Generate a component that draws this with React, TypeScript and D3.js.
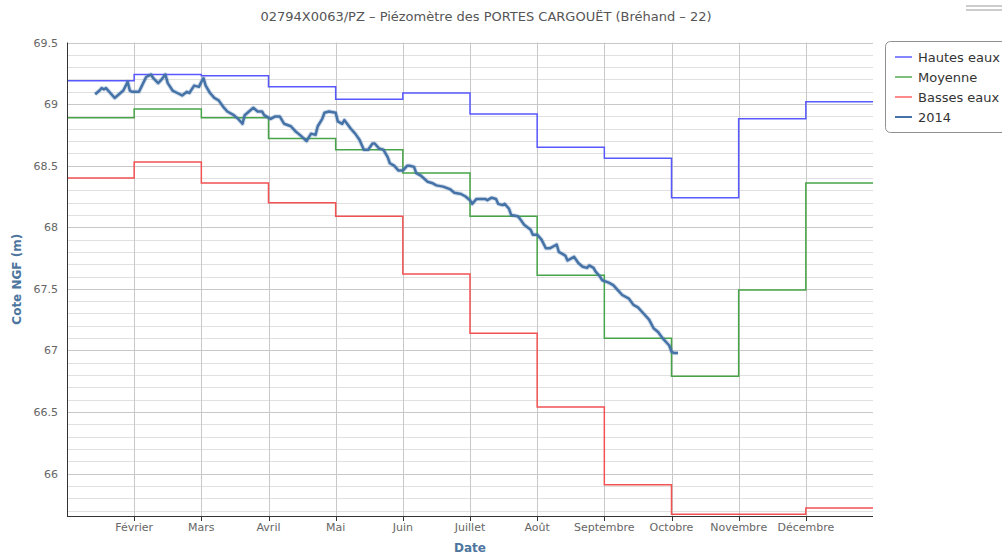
import React from "react";
import * as d3 from "d3";

const WIDTH = 1002;
const HEIGHT = 555;
const PLOT = { left: 67, right: 873, top: 42.5, bottom: 516 };

const TITLE = "02794X0063/PZ – Piézomètre des PORTES CARGOUËT (Bréhand – 22)";
const monthLabels = ["Janvier", "Février", "Mars", "Avril", "Mai", "Juin", "Juillet", "Août", "Septembre", "Octobre", "Novembre", "Décembre"];
const yTicks = [66, 66.5, 67, 67.5, 68, 68.5, 69, 69.5];

// monthly reference levels (one value per month, Jan..Dec)
const hautesEaux = [69.19, 69.24, 69.23, 69.14, 69.04, 69.09, 68.92, 68.65, 68.56, 68.24, 68.88, 69.02];
const moyenne = [68.89, 68.96, 68.89, 68.72, 68.63, 68.44, 68.09, 67.61, 67.1, 66.79, 67.49, 68.36];
const bassesEaux = [68.4, 68.53, 68.36, 68.2, 68.09, 67.62, 67.14, 66.54, 65.91, 65.67, 65.67, 65.72];

// 2014 readings: day offset from 1 Jan and level
const days2014 = [
  13, 15, 16, 17, 18, 20, 22, 24, 26, 28, 29, 30,
  33, 34, 36, 38, 39, 41, 42, 44, 45, 47, 49, 51, 53, 54, 56, 58,
  59, 60, 61, 63, 65, 67, 69, 71, 74, 76, 78, 79, 81, 83, 85, 87, 88,
  91, 93, 95, 97, 100, 102, 104, 107, 109, 111, 112, 114, 115, 117, 120,
  121, 123, 124, 127, 129, 131, 133, 135, 137, 138, 140, 142, 144, 145, 147, 149,
  151, 153, 154, 156, 157, 159, 162, 164, 166, 169, 172, 174, 177, 179,
  181, 182, 184, 186, 188, 189, 191, 193, 194, 196, 197, 199, 200, 203, 204, 206, 209, 210,
  212, 214, 216, 218, 220, 221, 222, 225, 226, 228, 229, 231, 233, 235, 236, 238, 239, 241, 242,
  245, 247, 249, 251, 254, 256, 258, 260, 263, 265, 267, 269, 272, 273, 274, 276,
];
const values2014 = [
  69.08, 69.11, 69.13, 69.12, 69.13, 69.09, 69.05, 69.08, 69.11, 69.18, 69.11, 69.1,
  69.1, 69.14, 69.22, 69.24, 69.21, 69.17, 69.19, 69.24, 69.17, 69.11, 69.09, 69.07, 69.1, 69.09, 69.15, 69.14,
  69.18, 69.21, 69.15, 69.09, 69.05, 69.03, 68.98, 68.94, 68.91, 68.88, 68.84, 68.91, 68.94, 68.97, 68.94, 68.94, 68.91,
  68.88, 68.9, 68.9, 68.84, 68.82, 68.78, 68.75, 68.7, 68.76, 68.75, 68.82, 68.88, 68.93, 68.94, 68.93,
  68.86, 68.84, 68.87, 68.8, 68.76, 68.71, 68.63, 68.63, 68.68, 68.68, 68.64, 68.63, 68.57, 68.52, 68.5, 68.46,
  68.46, 68.5, 68.5, 68.49, 68.44, 68.42, 68.37, 68.36, 68.34, 68.33, 68.31, 68.28, 68.27, 68.25,
  68.22, 68.19, 68.23, 68.23, 68.23, 68.22, 68.24, 68.23, 68.19, 68.18, 68.19, 68.15, 68.1, 68.09, 68.07, 68.02, 67.98, 67.94,
  67.94, 67.9, 67.83, 67.83, 67.85, 67.86, 67.8, 67.77, 67.73, 67.75, 67.76, 67.71, 67.68, 67.67, 67.69, 67.67, 67.64, 67.6, 67.57,
  67.55, 67.53, 67.49, 67.45, 67.42, 67.37, 67.35, 67.31, 67.25, 67.18, 67.15, 67.1, 67.04, 66.99, 66.98, 66.98,
];

const FONT = "'DejaVu Sans', sans-serif";
const start = new Date(2014, 0, 1);
const monthStarts = d3.timeMonth.range(start, new Date(2015, 0, 2));

const steps = [
  { name: "Hautes eaux", values: hautesEaux, color: "#5858ff", legend: "#8585ff" },
  { name: "Moyenne", values: moyenne, color: "#48a448", legend: "#7fc07f" },
  { name: "Basses eaux", values: bassesEaux, color: "#f25252", legend: "#ff8a8a" },
];

export default function App() {
  // months are drawn evenly spaced
  const x = d3
    .scaleTime()
    .domain(monthStarts)
    .range(monthStarts.map((_, i) => PLOT.left + (i * (PLOT.right - PLOT.left)) / 12));
  const y = d3.scaleLinear().domain([65.656, 69.5]).range([PLOT.bottom, PLOT.top]);

  const stepLine = d3
    .line<[Date, number]>()
    .x((d) => x(d[0]))
    .y((d) => y(d[1]))
    .curve(d3.curveStepAfter);

  const line2014 = d3
    .line<[Date, number]>()
    .x((d) => x(d[0]))
    .y((d) => y(d[1]))
    .curve(d3.curveLinear);

  const series2014: [Date, number][] = days2014.map((d, i) => [d3.timeDay.offset(start, d), values2014[i]]);

  const minorTicks = d3.range(657, 696).map((v) => v / 10);

  return (
    <svg width={WIDTH} height={HEIGHT} style={{ position: "absolute", left: 0, top: 0, background: "#fff" }} fontFamily={FONT}>
      <text x={486} y={21} textAnchor="middle" fontSize={13} fill="#555">
        {TITLE}
      </text>
      <line x1={966} x2={1002} y1={6} y2={6} stroke="#ccc" strokeWidth={2} />
      <line x1={966} x2={1002} y1={10} y2={10} stroke="#ccc" strokeWidth={2} />

      {/* minor and major grid */}
      {minorTicks.map((v) => (
        <line key={"m" + v} x1={PLOT.left} x2={PLOT.right} y1={Math.round(y(v)) + 0.5} y2={Math.round(y(v)) + 0.5} stroke="#e0e0e0" />
      ))}
      {yTicks.map((v) => (
        <line key={"g" + v} x1={PLOT.left} x2={PLOT.right} y1={Math.round(y(v)) + 0.5} y2={Math.round(y(v)) + 0.5} stroke="#c8c8c8" />
      ))}
      {monthStarts.slice(1, 12).map((d, i) => (
        <line key={"v" + i} x1={Math.round(x(d)) + 0.5} x2={Math.round(x(d)) + 0.5} y1={PLOT.top} y2={PLOT.bottom} stroke="#c8c8c8" />
      ))}

      {/* y axis */}
      {yTicks.map((v) => (
        <text key={"yl" + v} x={58} y={y(v) + 4} textAnchor="end" fontSize={11} fill="#666">
          {v}
        </text>
      ))}
      <text transform={`translate(21,${(PLOT.top + PLOT.bottom) / 2}) rotate(-90)`} textAnchor="middle" fontSize={12} fontWeight="bold" fill="#4d759e">
        Cote NGF (m)
      </text>

      {/* step series */}
      {steps.map((s) => {
        const pts: [Date, number][] = s.values.map((v, i) => [monthStarts[i], v]);
        pts.push([monthStarts[12], s.values[11]]);
        return <path key={s.name} d={stepLine(pts) || ""} fill="none" stroke={s.color} strokeWidth={1.5} />;
      })}

      <path d={line2014(series2014) || ""} fill="none" stroke="#4572a7" strokeOpacity={0.25} strokeWidth={4.5} strokeLinejoin="round" />
      <path d={line2014(series2014) || ""} fill="none" stroke="#4572a7" strokeWidth={2.5} strokeLinejoin="round" />

      {/* axis lines */}
      <line x1={PLOT.left + 0.5} x2={PLOT.left + 0.5} y1={PLOT.top} y2={PLOT.bottom} stroke="#333" />
      <line x1={PLOT.left} x2={PLOT.right} y1={PLOT.bottom + 0.5} y2={PLOT.bottom + 0.5} stroke="#333" />
      {monthStarts.slice(1, 12).map((d, i) => (
        <g key={"xt" + i}>
          <line x1={Math.round(x(d)) + 0.5} x2={Math.round(x(d)) + 0.5} y1={PLOT.bottom} y2={PLOT.bottom + 5} stroke="#333" />
          <text x={x(d)} y={531} textAnchor="middle" fontSize={11} fill="#666">
            {monthLabels[i + 1]}
          </text>
        </g>
      ))}
      <text x={470} y={552} textAnchor="middle" fontSize={12} fontWeight="bold" fill="#4d759e">
        Date
      </text>

      {/* legend */}
      <rect x={885.5} y={41.5} width={130} height={91} rx={5} fill="#fff" stroke="#909090" />
      {[...steps.map((s) => ({ name: s.name, color: s.legend })), { name: "2014", color: "#4572a7" }].map((s, i) => (
        <g key={s.name} transform={`translate(0,${57 + i * 20})`}>
          <line x1={895} x2={912} y1={0} y2={0} stroke={s.color} strokeWidth={2} />
          <text x={918} y={4.5} fontSize={13} fill="#333">
            {s.name}
          </text>
        </g>
      ))}
    </svg>
  );
}
